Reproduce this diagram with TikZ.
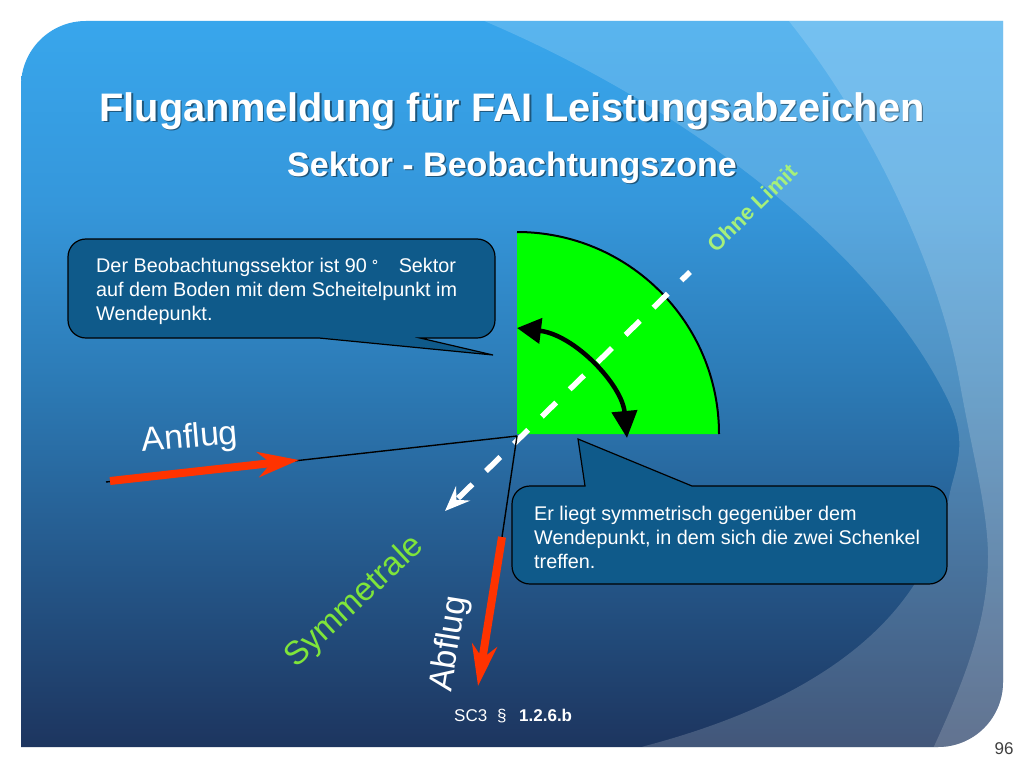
\documentclass[tikz,border=0pt]{standalone}
\usepackage{fontspec}
\setmainfont{Liberation Sans}
\usetikzlibrary{arrows.meta}
\definecolor{bgtop}{HTML}{38A6EC}
\definecolor{bgupper}{HTML}{3597DB}
\definecolor{bgmid}{HTML}{2C7AB5}
\definecolor{bgbot}{HTML}{1D355F}
\definecolor{calloutfill}{HTML}{0F5A8A}
\definecolor{redarrow}{HTML}{FF3300}
\definecolor{symgreen}{HTML}{7FE53A}
\definecolor{limitgreen}{HTML}{A6F07A}
\definecolor{pagegray}{HTML}{404040}
\pgfdeclareverticalshading{slidebg}{100bp}{color(0bp)=(bgbot); color(25bp)=(bgbot); color(50bp)=(bgmid); color(62.5bp)=(bgupper); color(75bp)=(bgtop); color(100bp)=(bgtop)}
\newcommand{\fs}[1]{\fontsize{#1}{#1}\selectfont}
\tikzset{
  overlay band/.style={fill=white,opacity=0.17},
  callout/.style={draw=black,line width=1.2pt,fill=calloutfill},
  callout text/.style={text=white,anchor=base west,align=left,inner sep=0pt,font=\fontsize{19.8}{24}\selectfont},
  title main/.style={text=white,inner sep=0pt,anchor=base,font=\fs{39.8}\bfseries},
  title sub/.style={text=white,inner sep=0pt,anchor=base,font=\fs{34}\bfseries},
  title shadow/.style={text=black,text opacity=0.45},
  thin line/.style={draw=black,line width=1.4pt},
  red arrow/.style={draw=redarrow,line width=8pt,-{Stealth[length=41pt,width=25pt,inset=13pt]}},
  big label/.style={inner sep=0pt,font=\fs{34}},
}
\begin{document}
\begin{tikzpicture}[x=1pt,y=-1pt]
\useasboundingbox (0,0) rectangle (1024,768);
\fill[white] (0,0) rectangle (1024,768);
\begin{scope}
  \clip (21,86) .. controls (21,50) and (50,21) .. (86,21) -- (1003,21) -- (1003,682)
     .. controls (1003,718) and (974,747) .. (938,747) -- (21,747) -- cycle;
  \shade[shading=slidebg] (21,21) rectangle (1003,747);
  \fill[overlay band] (470,15) .. controls (700,110) and (880,260) .. (948,400)
     .. controls (970,445) and (954,469) .. (949,497)
     .. controls (925,630) and (800,705) .. (645,746)
     -- (610,757) -- (1010,757) -- (1010,15) -- cycle;
  \fill[overlay band] (784,15) .. controls (870,120) and (940,270) .. (960,384)
     .. controls (972,452) and (988,510) .. (988,557)
     .. controls (988,620) and (965,680) .. (930,755)
     -- (1010,755) -- (1010,15) -- cycle;
\end{scope}

% sector
\coordinate (vertex) at (517,434);
\coordinate (sectop) at (517,232);
\coordinate (secright) at (719,434);
\fill[green] (vertex) -- (sectop) .. controls (628.6,232) and (719,322.4) .. (secright) -- cycle;
\draw[black,line width=2pt] (sectop) .. controls (628.6,232) and (719,322.4) .. (secright);

% curved double arrow
\coordinate (bowA) at (517,328);
\coordinate (bowB) at (627,438);
\draw[black,line width=4.5pt,{Triangle[length=24pt,width=25pt]}-{Triangle[length=27pt,width=25pt]}]
  (bowA) .. controls (575,335) and (622,385) .. (bowB);

% symmetry line
\coordinate (symA) at (690,272);
\coordinate (symB) at (445,511);
\draw[white,line width=5.5pt,dash pattern=on 20pt off 19pt,dash phase=8pt,
  -{Stealth[length=25pt,width=20pt,inset=9pt]}] (symA) -- (symB);

% legs
\coordinate (legvertex) at (517,436);
\coordinate (inStart) at (106,482);
\coordinate (inRed) at (110,481);
\coordinate (inTip) at (299,460);
\coordinate (outStart) at (502,537);
\coordinate (outTip) at (478,686);
\draw[thin line] (legvertex) -- (inStart);
\draw[thin line] (legvertex) -- (outStart);
\draw[red arrow] (inRed) -- (inTip);
\draw[red arrow] (outStart) -- (outTip);

% callouts
\draw[callout] (86,239) -- (477,239) .. controls (487,239) and (495,247) .. (495,257)
  -- (495,320) .. controls (495,330) and (487,338) .. (477,338)
  -- (420,338) -- (493,355) -- (319,338) -- (86,338)
  .. controls (76,338) and (68,330) .. (68,320) -- (68,257)
  .. controls (68,247) and (76,239) .. (86,239) -- cycle;
\node[callout text] (calloutA) at (96,320) {Der Beobachtungssektor ist 90 \raisebox{-3pt}{\fs{19}˚}\hspace{20pt}Sektor\\auf dem Boden mit dem Scheitelpunkt im\\Wendepunkt.};

\draw[callout] (530,486) -- (585,486) -- (578,439) -- (692,486) -- (929,486)
  .. controls (939,486) and (947,494) .. (947,504) -- (947,566)
  .. controls (947,576) and (939,584) .. (929,584) -- (530,584)
  .. controls (520,584) and (512,576) .. (512,566) -- (512,504)
  .. controls (512,494) and (520,486) .. (530,486) -- cycle;
\node[callout text] (calloutB) at (534,568) {Er liegt symmetrisch gegenüber dem\\Wendepunkt, in dem sich die zwei Schenkel\\treffen.};

% titles
\node[title main,title shadow] (titleS) at (513.5,122.5) {Fluganmeldung für FAI Leistungsabzeichen};
\node[title main] (title) at (512,121) {Fluganmeldung für FAI Leistungsabzeichen};
\node[title sub,title shadow] (subS) at (513.5,177.5) {Sektor - Beobachtungszone};
\node[title sub] (sub) at (512,176) {Sektor - Beobachtungszone};

% labels
\node[big label,text=white,rotate=5] (anflug) at (190,439) {Anflug};
\node[big label,text=white,rotate=81] (abflug) at (450,644) {Abflug};
\node[big label,text=symgreen,rotate=43,font=\fs{33}] (symm) at (355,602) {Symmetrale};
\node[inner sep=0pt,text=limitgreen,rotate=44,font=\fs{22}\bfseries] (limit) at (752,208) {Ohne Limit};
\node[inner sep=0pt,anchor=base west,text=white,font=\fs{17}] (ref) at (454,721) {SC3};
\node[inner sep=0pt,anchor=base west,text=white,font=\fs{17}] (refs) at (497,721) {§};
\node[inner sep=0pt,anchor=base west,text=white,font=\fs{17}\bfseries] (refn) at (519,721) {1.2.6.b};
\node[inner sep=0pt,text=pagegray,font=\fs{17}] (page) at (1004,749) {96};
\end{tikzpicture}
\end{document}
